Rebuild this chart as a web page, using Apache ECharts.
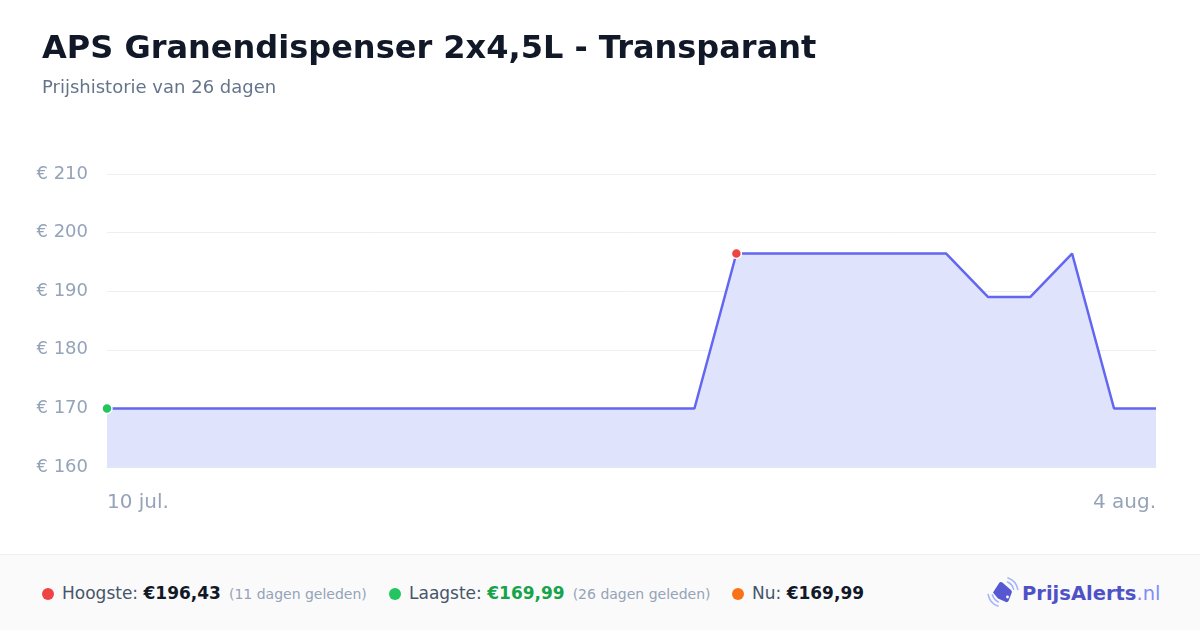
<!DOCTYPE html>
<html><head><meta charset="utf-8">
<script src="https://cdn.jsdelivr.net/npm/echarts@6/dist/echarts.min.js"></script>
<style>
html,body{margin:0;padding:0;width:1200px;height:630px;background:#fff;font-family:"DejaVu Sans",sans-serif;overflow:hidden}
#chart{position:absolute;left:0;top:0;width:1200px;height:630px}
#title{position:absolute;left:42px;top:28px;font-size:32px;font-weight:bold;color:#111827;white-space:nowrap}
#sub{position:absolute;left:42px;top:76px;font-size:18px;color:#64748b;white-space:nowrap}
#footer{position:absolute;left:0;top:554px;width:1200px;height:76px;background:#fafafa;border-top:1px solid #f0f0f0;box-sizing:border-box}
.item{position:absolute;top:28px;font-size:17px;color:#475569;white-space:nowrap;line-height:20px}
.dot{display:inline-block;width:12px;height:12px;border-radius:6px;margin-right:8px;vertical-align:-1px}
.val{font-weight:bold;color:#111827}
.ago{font-size:14px;color:#94a3b8;margin-left:8px}
#logo{position:absolute;left:985px;top:20px;height:36px;display:flex;align-items:center;white-space:nowrap;font-size:19.5px;font-weight:bold;color:#4f52c7}
#logo .nl{font-weight:normal;color:#818cf8}
#logo svg{display:block;margin-right:0}
</style></head>
<body>
<div id="chart"></div>
<div id="title">APS Granendispenser 2x4,5L - Transparant</div>
<div id="sub">Prijshistorie van 26 dagen</div>
<div id="footer">
  <div class="item" style="left:42px"><span class="dot" style="background:#ef4444"></span>Hoogste: <span class="val">€196,43</span><span class="ago">(11 dagen geleden)</span></div>
  <div class="item" style="left:389px"><span class="dot" style="background:#22c55e"></span>Laagste: <span class="val" style="color:#16a34a">€169,99</span><span class="ago">(26 dagen geleden)</span></div>
  <div class="item" style="left:732px"><span class="dot" style="background:#f97316"></span>Nu: <span class="val">€169,99</span></div>
  <div id="logo"><svg width="37" height="36" viewBox="0 0 37 36">
    <path d="M23.1 2.9 A15 15 0 0 1 32.8 14.4" stroke="#a5b4fc" stroke-width="1.6" fill="none" stroke-linecap="round"/>
    <path d="M22.6 7.0 A11 11 0 0 1 28.6 14.2" stroke="#a5b4fc" stroke-width="1.6" fill="none" stroke-linecap="round"/>
    <path d="M12.9 31.1 A15 15 0 0 1 3.2 19.6" stroke="#a5b4fc" stroke-width="1.6" fill="none" stroke-linecap="round"/>
    <path d="M13.4 27.0 A11 11 0 0 1 7.4 19.8" stroke="#a5b4fc" stroke-width="1.6" fill="none" stroke-linecap="round"/>
    <path d="M8 17.5 L14.5 7.5 Q15.5 6.5 17 7.2 L26 15 Q27.2 16 26.8 17.5 L23.5 26 Q22.8 27.5 21 27 L13 23.5 Z" fill="#5558d0"/>
    <circle cx="22.5" cy="22" r="1.4" fill="#fff"/>
  </svg><span>PrijsAlerts</span><span class="nl">.nl</span></div>
</div>
<script>
var dates = ["10 jul.","11 jul.","12 jul.","13 jul.","14 jul.","15 jul.","16 jul.","17 jul.","18 jul.","19 jul.","20 jul.","21 jul.","22 jul.","23 jul.","24 jul.","25 jul.","26 jul.","27 jul.","28 jul.","29 jul.","30 jul.","31 jul.","1 aug.","2 aug.","3 aug.","4 aug."];
var prices = [169.99,169.99,169.99,169.99,169.99,169.99,169.99,169.99,169.99,169.99,169.99,169.99,169.99,169.99,169.99,196.43,196.43,196.43,196.43,196.43,196.43,188.99,188.99,196.43,169.99,169.99];
var yTicks = [160,170,180,190,200,210];
var minIdx = 0, maxIdx = 15;

var chart = echarts.init(document.getElementById('chart'), null, {renderer:'canvas'});
var lastIdx = dates.length - 1;
chart.setOption({
  animation:false,
  grid:{left:107,right:44,top:174,bottom:163},
  xAxis:{
    type:'category', data:dates, boundaryGap:false,
    axisLine:{show:true,lineStyle:{color:'#e2e8f0',width:1}},
    axisTick:{show:false},
    splitLine:{show:false},
    axisLabel:{
      interval:function(i){return i===0||i===lastIdx;},
      color:'#94a3b8', fontSize:20, fontFamily:'DejaVu Sans', margin:26,
      alignMinLabel:'left', alignMaxLabel:'right'
    }
  },
  yAxis:{
    type:'value', min:yTicks[0], max:yTicks[yTicks.length-1], interval:10,
    axisLine:{show:false}, axisTick:{show:false},
    splitLine:{lineStyle:{color:'#eceef2',width:1}},
    axisLabel:{formatter:function(v){return '€ '+v;}, color:'#94a3b8', fontSize:18, fontFamily:'DejaVu Sans', margin:19}
  },
  series:[{
    type:'line', data:prices, symbol:'none',
    lineStyle:{color:'#6366f1',width:2.5},
    areaStyle:{color:'#e0e3fc',opacity:1},
    markPoint:{
      symbol:'circle', symbolSize:10, label:{show:false},
      data:[
        {coord:[minIdx,prices[minIdx]], itemStyle:{color:'#22c55e',borderColor:'#fff',borderWidth:1.5}},
        {coord:[maxIdx,prices[maxIdx]], itemStyle:{color:'#ef4444',borderColor:'#fff',borderWidth:1.5}}
      ]
    }
  }]
});
</script>
</body></html>
